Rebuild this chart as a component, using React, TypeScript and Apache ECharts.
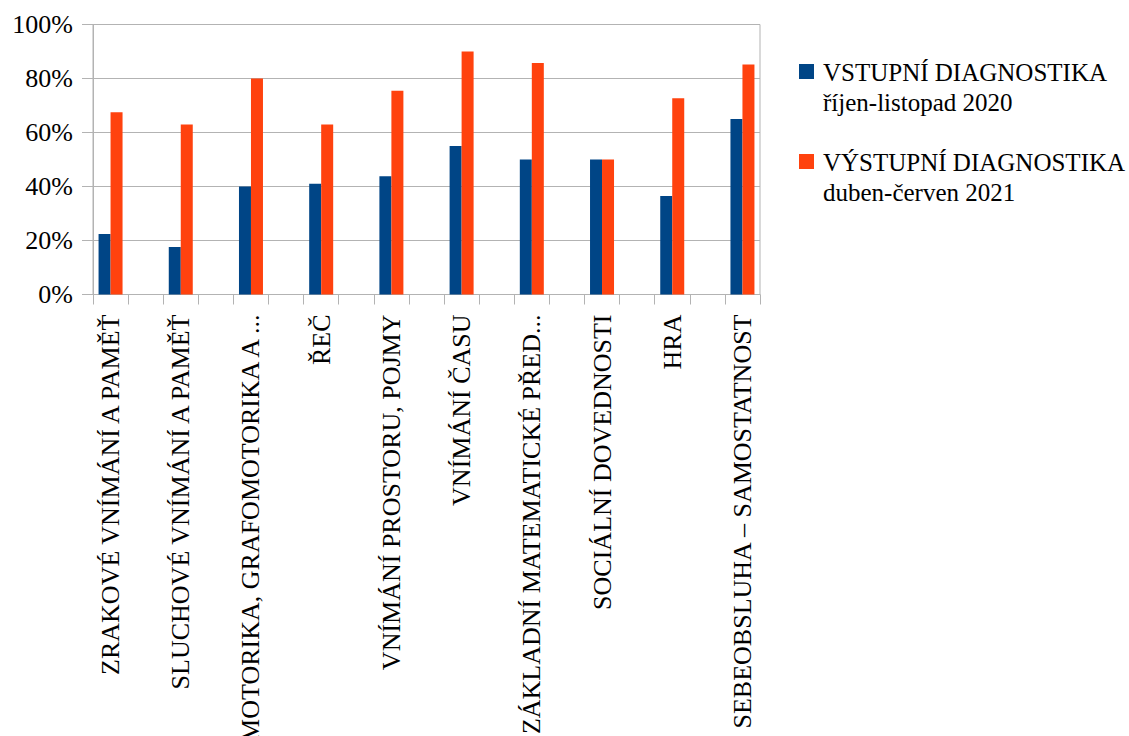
import React, { useEffect, useRef } from "react";
import * as echarts from "echarts";

const categories = [
  "ZRAKOVÉ VNÍMÁNÍ A PAMĚŤ",
  "SLUCHOVÉ VNÍMÁNÍ A PAMĚŤ",
  "MOTORIKA, GRAFOMOTORIKA A ...",
  "ŘEČ",
  "VNÍMÁNÍ PROSTORU, POJMY",
  "VNÍMÁNÍ ČASU",
  "ZÁKLADNÍ MATEMATICKÉ PŘED...",
  "SOCIÁLNÍ DOVEDNOSTI",
  "HRA",
  "SEBEOBSLUHA – SAMOSTATNOST",
];
const entryValues = [22.4, 17.6, 40.0, 41.0, 43.8, 55.0, 50.0, 50.0, 36.5, 65.0];
const exitValues = [67.5, 63.0, 80.0, 63.0, 75.5, 90.0, 85.7, 50.0, 72.7, 85.2];
const entryName = ["VSTUPNÍ DIAGNOSTIKA", "říjen-listopad 2020"];
const exitName = ["VÝSTUPNÍ DIAGNOSTIKA", "duben-červen 2021"];
const yMin = 0;
const yMax = 100;
const yStep = 20;

const BLUE = "#004586";
const ORANGE = "#ff420e";
const GRID = "#b3b3b3";
const FONT = "Liberation Serif";

// Spread categories with empty slots between them (as in the original layout)
function spreadLabels(list: string[]): string[] {
  const out: string[] = [];
  list.forEach((c, i) => {
    out.push(c);
    if (i < list.length - 1) out.push("");
  });
  return out;
}
function spreadValues(list: number[]): (number | string)[] {
  const out: (number | string)[] = [];
  list.forEach((v, i) => {
    out.push(v);
    if (i < list.length - 1) out.push("-");
  });
  return out;
}

export default function App() {
  const ref = useRef<HTMLDivElement>(null);
  useEffect(() => {
    document.body.style.margin = "0";
    if (!ref.current) return;
    const chart = echarts.init(ref.current, undefined, { renderer: "svg" });
    const legendItem = (name: string[], color: string, y: number) => ({
      type: "group",
      children: [
        {
          type: "rect",
          shape: { x: 799, y: y + 5, width: 15, height: 15 },
          style: { fill: color },
        },
        {
          type: "text",
          x: 823,
          y: y - 2,
          style: {
            text: name.join("\n"),
            fontFamily: FONT,
            fontSize: 25,
            fill: "#000",
            lineHeight: 30,
            verticalAlign: "top",
          },
        },
      ],
    });
    chart.setOption({
      animation: false,
      backgroundColor: "#fff",
      textStyle: { fontFamily: FONT },
      grid: {
        left: 93,
        top: 24.5,
        width: 667,
        height: 270,
        show: true,
        borderColor: GRID,
        borderWidth: 1,
        containLabel: false,
        outerBoundsMode: "none",
      },
      xAxis: {
        type: "category",
        data: spreadLabels(categories),
        boundaryGap: true,
        axisLine: { lineStyle: { color: GRID, width: 1 } },
        axisTick: { show: true, length: 10, lineStyle: { color: GRID } },
        axisLabel: {
          interval: 0,
          rotate: 90,
          margin: 20,
          color: "#000",
          fontFamily: FONT,
          fontSize: 26,
        },
      },
      yAxis: {
        type: "value",
        min: yMin,
        max: yMax,
        interval: yStep,
        axisLine: { show: true, lineStyle: { color: GRID } },
        axisTick: { show: true, length: 11, lineStyle: { color: GRID } },
        splitLine: { show: true, lineStyle: { color: GRID } },
        axisLabel: {
          formatter: "{value}%",
          margin: 20,
          color: "#000",
          fontFamily: FONT,
          fontSize: 26,
        },
      },
      series: [
        {
          name: entryName.join(" "),
          type: "bar",
          data: spreadValues(entryValues),
          barWidth: 12,
          barGap: "0%",
          itemStyle: { color: BLUE },
        },
        {
          name: exitName.join(" "),
          type: "bar",
          data: spreadValues(exitValues),
          barWidth: 12,
          barGap: "0%",
          itemStyle: { color: ORANGE },
        },
      ],
      graphic: [legendItem(entryName, BLUE, 59), legendItem(exitName, ORANGE, 149)],
    });
    return () => chart.dispose();
  }, []);
  return <div ref={ref} style={{ width: 1129, height: 736 }} />;
}
